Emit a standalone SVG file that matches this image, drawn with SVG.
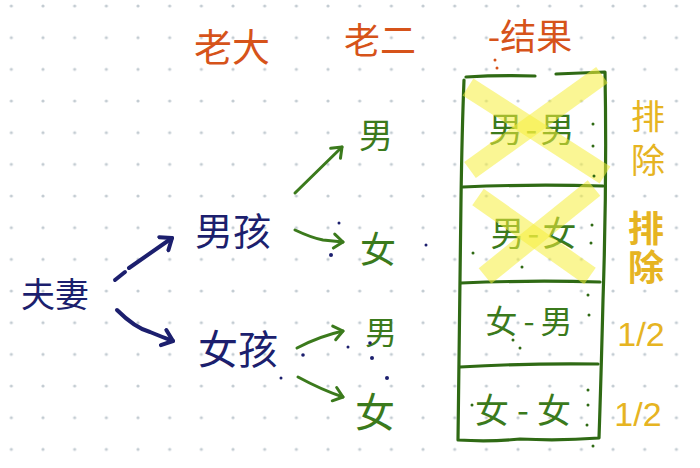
<svg xmlns="http://www.w3.org/2000/svg" width="700" height="468" viewBox="0 0 700 468">
<defs>
<pattern id="dots" x="43" y="6" width="31.67" height="31.67" patternUnits="userSpaceOnUse">
<circle cx="0" cy="0" r="1.6" fill="#c3ccd2"/>
<circle cx="31.67" cy="0" r="1.6" fill="#c3ccd2"/>
<circle cx="0" cy="31.67" r="1.6" fill="#c3ccd2"/>
<circle cx="31.67" cy="31.67" r="1.6" fill="#c3ccd2"/>
</pattern>
<marker id="navyhead" markerUnits="userSpaceOnUse" markerWidth="24" markerHeight="24" refX="12" refY="12" orient="auto" viewBox="0 0 24 24">
<path d="M2,4 L12,12 L2,20" fill="none" stroke="#1c1f6e" stroke-width="4" stroke-linecap="round" stroke-linejoin="round"/>
</marker>
<marker id="greenhead" markerUnits="userSpaceOnUse" markerWidth="24" markerHeight="24" refX="12" refY="12" orient="auto" viewBox="0 0 24 24">
<path d="M3,5 L12,12 L3,19" fill="none" stroke="#3b7a1c" stroke-width="3" stroke-linecap="round" stroke-linejoin="round"/>
</marker>
</defs>
<style>
.cjk{font-family:"Noto Sans CJK SC","Noto Sans CJK JP",sans-serif;text-anchor:middle;dominant-baseline:central}
.orange{fill:#d6531a}
.navy{fill:#1c1f6e}
.green{fill:#3b7a1c}
.gold{fill:#e6b422}
.navyline{fill:none;stroke:#1c1f6e;stroke-width:4;stroke-linecap:round;stroke-linejoin:round}
.greenline{fill:none;stroke:#3b7a1c;stroke-width:3;stroke-linecap:round;stroke-linejoin:round}
.box{fill:none;stroke:#2f6a14;stroke-width:3.2;stroke-linecap:round;stroke-linejoin:round}
.hl{fill:none;stroke:#f6ef3c;stroke-opacity:0.55;stroke-width:20;stroke-linecap:butt}
.dot{fill:#1c1f6e}
.gdot{fill:#2f6a14}
.vert{writing-mode:tb;font-family:"Noto Sans CJK SC","Noto Sans CJK JP",sans-serif;text-anchor:middle}
</style>
<rect width="700" height="468" fill="#ffffff"/>
<rect width="700" height="468" fill="url(#dots)"/>

<g id="header-laoda"><text class="cjk orange" x="232" y="44" font-size="38">老大</text></g>
<g id="header-laoer"><text class="cjk orange" x="380" y="38" font-size="36">老二</text></g>
<g id="header-result">
<text class="cjk orange" x="530" y="34" font-size="36">-结果</text>
<circle cx="495" cy="60" r="1.5" fill="#d6531a"/>
<circle cx="497" cy="68" r="1.5" fill="#d6531a"/>
</g>

<g id="couple"><text class="cjk navy" x="55" y="292" font-size="34">夫妻</text></g>
<g id="boy"><text class="cjk navy" x="233" y="228" font-size="38">男孩</text></g>
<g id="girl"><text class="cjk navy" x="238" y="347" font-size="40">女孩</text></g>

<g id="second-m1"><text class="cjk green" x="376" y="133" font-size="34">男</text></g>
<g id="second-f1"><text class="cjk green" x="378" y="247" font-size="36">女</text></g>
<g id="second-m2"><text class="cjk green" x="381" y="330" font-size="32">男</text></g>
<g id="second-f2"><text class="cjk green" x="375" y="410" font-size="40">女</text></g>

<g id="connectors">
<path class="navyline" d="M115,280 L125,272"/>
<path class="navyline" d="M129,268 L172,238" marker-end="url(#navyhead)"/>
<path class="navyline" d="M117,310 Q135,328 150,332 Q162,337 173,341" marker-end="url(#navyhead)"/>
<path class="greenline" d="M295,193 L342,147" marker-end="url(#greenhead)"/>
<path class="greenline" d="M295,230 Q312,238 323,240 L343,242" marker-end="url(#greenhead)"/>
<path class="greenline" d="M297,348 Q320,336 343,331" marker-end="url(#greenhead)"/>
<path class="greenline" d="M298,377 Q322,390 343,397" marker-end="url(#greenhead)"/>
</g>

<g id="result-table">
<path class="box" d="M466,77 Q500,75 535,76 M556,74 L605,72 Q607,180 603,300 Q601,380 599,438 Q560,441 520,439 Q490,442 458,440 Q460,300 461,200 Q462,130 464,80"/>
<path class="box" d="M463,187 Q530,184 603,186"/>
<path class="box" d="M461,283 Q530,280 600,282"/>
<path class="box" d="M460,367 Q530,363 598,364"/>
</g>

<g id="cell-mm">
<text class="cjk green" x="533" y="127" font-size="34" letter-spacing="3">男-男</text>
<path class="hl" d="M468,87 L605,175"/>
<path class="hl" d="M470,170 L602,75"/>
</g>
<g id="cell-mf">
<text class="cjk green" x="535" y="231" font-size="34" letter-spacing="3">男-女</text>
<path class="hl" d="M478,197 L590,276"/>
<path class="hl" d="M485,276 L594,188"/>
</g>
<g id="cell-fm"><text class="cjk green" x="532" y="319" font-size="32" letter-spacing="6">女-男</text></g>
<g id="cell-ff"><text class="cjk green" x="527" y="408" font-size="34" letter-spacing="8">女-女</text></g>

<g id="note-exclude-1">
<text class="vert gold" x="648" y="143" font-size="34" letter-spacing="10">排除</text>
</g>
<g id="note-exclude-2">
<text class="vert gold" x="646" y="249" font-size="36" font-weight="bold" letter-spacing="3">排除</text>
</g>
<g id="note-half-1"><text class="gold" x="641" y="346" font-size="34" font-family="Liberation Sans, sans-serif" text-anchor="middle">1/2</text></g>
<g id="note-half-2"><text class="gold" x="638" y="426" font-size="34" font-family="Liberation Sans, sans-serif" text-anchor="middle">1/2</text></g>

<g id="stray-dots">
<circle class="dot" cx="339" cy="223" r="1.5"/>
<circle class="dot" cx="331" cy="255" r="2"/>
<circle class="dot" cx="303" cy="355" r="1.8"/>
<circle class="dot" cx="348" cy="347" r="1.5"/>
<circle class="dot" cx="370" cy="343" r="1.8"/>
<circle class="dot" cx="372" cy="358" r="2"/>
<circle class="dot" cx="387" cy="378" r="2"/>
<circle class="dot" cx="281" cy="378" r="1.5"/>
<circle class="gdot" cx="593" cy="124" r="1.5"/>
<circle class="gdot" cx="593" cy="146" r="1.5"/>
<circle class="gdot" cx="594" cy="176" r="1.5"/>
<circle class="gdot" cx="592" cy="225" r="1.5"/>
<circle class="gdot" cx="591" cy="243" r="1.5"/>
<circle class="gdot" cx="473" cy="253" r="1.5"/>
<circle class="gdot" cx="522" cy="267" r="1.5"/>
<circle class="gdot" cx="588" cy="295" r="1.5"/>
<circle class="gdot" cx="589" cy="315" r="1.5"/>
<circle class="gdot" cx="513" cy="340" r="1.5"/>
<circle class="gdot" cx="520" cy="348" r="1.5"/>
<circle class="gdot" cx="588" cy="390" r="1.5"/>
<circle class="gdot" cx="588" cy="405" r="1.5"/>
<circle class="gdot" cx="587" cy="425" r="1.5"/>
<circle class="gdot" cx="472" cy="405" r="1.5"/>
<circle class="gdot" cx="593" cy="446" r="1.5"/>
<circle class="dot" cx="426" cy="245" r="1.5"/>
</g>
</svg>
